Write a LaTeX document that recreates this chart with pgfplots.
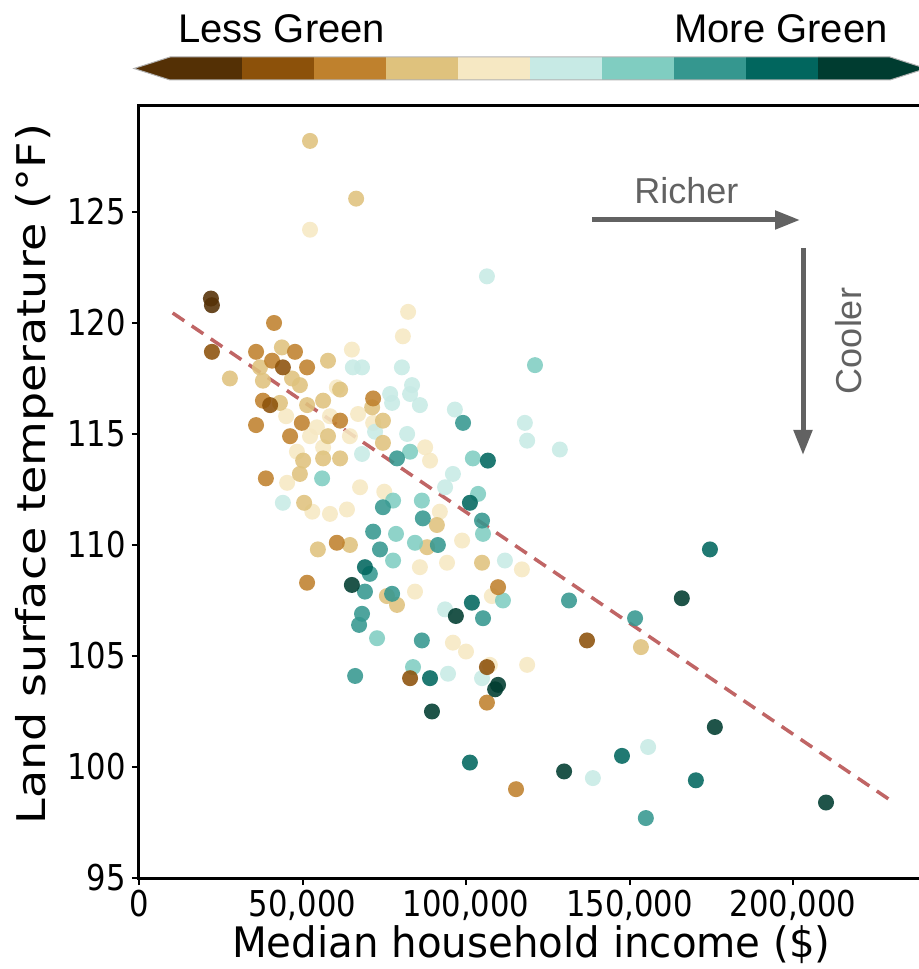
\documentclass[border=0pt]{standalone}
\usepackage{pgfplots}
\pgfplotsset{compat=1.18}
\usetikzlibrary{arrows.meta}
\usepackage{fontspec}
\setmainfont{DejaVu Sans}
\newfontfamily\arialf{Liberation Sans}
\definecolor{c1}{HTML}{543005}
\definecolor{c2}{HTML}{8C510A}
\definecolor{c3}{HTML}{BF812D}
\definecolor{c4}{HTML}{DFC27D}
\definecolor{c5}{HTML}{F6E8C3}
\definecolor{c6}{HTML}{C7EAE5}
\definecolor{c7}{HTML}{80CDC1}
\definecolor{c8}{HTML}{35978F}
\definecolor{c9}{HTML}{01665E}
\definecolor{c10}{HTML}{003C30}
\definecolor{trend}{HTML}{C06565}
\definecolor{annot}{HTML}{626262}
\pgfplotsset{dots/.style={only marks, mark=*, mark size=4pt, mark options={draw opacity=0, fill opacity=0.88}}}
\begin{document}
\begin{tikzpicture}
\path[use as bounding box] (-69.5pt,-45.5pt) rectangle (389.5pt,439pt);
\begin{axis}[
  at={(0,0)}, anchor=south west,
  scale only axis, width=392.4pt, height=386.3pt,
  xmin=0, xmax=240000, ymin=95, ymax=129.8,
  axis line style={line width=1.5pt},
  tick align=outside, xtick pos=bottom, ytick pos=left,
  major tick length=3.5pt, tick style={line width=1pt, black},
  xtick={0,50000,100000,150000,200000},
  xticklabels={0,{50,000},{100,000},{150,000},{200,000}},
  scaled x ticks=false,
  ytick={95,100,105,110,115,120,125},
  /pgf/number format/assume math mode=true,
  tick label style={font=\fontsize{17.8}{20}\selectfont, xscale=0.86},
  xticklabel style={yshift=1pt},
  xlabel={Median household income (\$)},
  ylabel={Land surface temperature (°F)},
  xlabel style={at={(axis description cs:0.5,-0.1035)}, anchor=base, font=\fontsize{21}{24}\selectfont, xscale=0.96},
  ylabel style={at={(axis description cs:-0.1325,0.523)}, anchor=center, font=\fontsize{23}{26}\selectfont, yscale=0.86},
]
\addplot[dots, c5] coordinates {(52300,124.2) (82300,120.5) (80700,119.4) (65100,118.8) (60500,117.1) (67000,115.9) (71600,115.5) (58400,115.8) (52300,114.9) (54400,115.3) (48300,114.2) (56300,114.4) (64500,114.9) (87500,114.4) (89000,113.8) (45300,112.8) (67600,112.6) (58400,111.4) (63600,111.6) (85900,109.0) (94200,109.2) (117100,108.9) (84400,107.9) (107900,107.7) (96000,105.6) (100000,105.2) (118700,104.6) (107300,104.6) (98800,110.2) (53000,111.5) (75000,112.4) (92000,111.5) (45000,115.8)};
\addplot[dots, c6] coordinates {(106400,122.1) (65400,118.0) (68200,118.0) (80400,118.0) (83500,117.2) (82900,116.8) (76800,116.8) (77400,116.4) (85900,116.3) (72200,115.1) (82000,115.0) (96600,116.1) (118000,115.5) (118700,114.7) (128700,114.3) (96000,113.2) (68200,114.1) (44000,111.9) (93600,107.1) (94500,104.2) (104900,104.0) (155700,100.9) (138800,99.5) (93600,112.6) (111900,109.3)};
\addplot[dots, c4] coordinates {(52300,128.2) (66400,125.6) (27800,117.5) (43700,118.9) (57800,118.3) (37000,118.0) (37900,117.4) (46800,117.5) (49200,117.2) (43100,116.4) (51400,116.3) (56300,116.5) (61500,117.0) (71300,116.2) (74600,115.6) (74600,114.6) (57800,114.9) (49200,113.2) (50200,113.8) (56300,113.9) (61500,113.9) (50500,111.9) (64500,110.0) (54700,109.8) (91100,110.9) (88100,109.9) (104900,109.2) (75800,107.7) (78900,107.3) (153500,105.4)};
\addplot[dots, c7] coordinates {(121100,118.1) (82900,114.2) (102100,113.9) (56000,113.0) (77700,112.0) (86500,112.0) (103700,112.3) (105200,110.5) (78600,110.5) (84400,110.1) (77700,109.3) (111300,107.5) (72800,105.8) (83800,104.5)};
\addplot[dots, c3] coordinates {(41300,120.0) (35800,118.7) (47700,118.7) (40700,118.3) (51400,118.0) (37900,116.5) (71600,116.6) (61500,115.6) (35800,115.4) (49800,115.5) (46200,114.9) (38800,113.0) (60500,110.1) (51400,108.3) (109800,108.1) (106400,102.9) (115300,99.0)};
\addplot[dots, c8] coordinates {(99100,115.5) (78900,113.9) (74600,111.7) (86800,111.2) (71600,110.6) (73700,109.8) (91400,110.0) (104900,111.1) (70600,108.7) (69100,107.9) (68200,106.9) (67300,106.4) (77400,107.8) (86500,105.7) (66100,104.1) (105200,106.7) (131500,107.5) (151700,106.7) (155000,97.7)};
\addplot[dots, c2] coordinates {(22300,118.7) (44000,118.0) (40100,116.3) (82900,104.0) (106400,104.5) (137000,105.7)};
\addplot[dots, c9] coordinates {(106700,113.8) (101200,111.9) (69100,109.0) (101800,107.4) (89000,104.0) (101200,100.2) (147700,100.5) (170300,99.4) (174600,109.8)};
\addplot[dots, c1] coordinates {(22000,121.1) (22300,120.8)};
\addplot[dots, c10] coordinates {(65100,108.2) (96900,106.8) (109800,103.7) (108900,103.5) (89600,102.5) (166000,107.6) (176100,101.8) (130000,99.8) (210100,98.4)};
\addplot[trend, line width=1.75pt, dash pattern=on 7pt off 4.5pt] coordinates {(10300,120.45) (230300,98.45)};
\end{axis}
% colour bar
\fill[c1] (-2.5pt,404.75pt) -- (15.5pt,410.5pt) -- (51.5pt,410.5pt) -- (51.5pt,399pt) -- (15.5pt,399pt) -- cycle;
\foreach \c [count=\i from 0] in {c2,c3,c4,c5,c6,c7,c8,c9}
  \fill[\c] ({51.5pt+\i*36pt},399pt) rectangle ({87.5pt+\i*36pt},410.5pt);
\fill[c10] (339.5pt,399pt) -- (375.5pt,399pt) -- (393.5pt,404.75pt) -- (375.5pt,410.5pt) -- (339.5pt,410.5pt) -- cycle;
\draw[gray!60, line width=0.5pt] (-2.5pt,404.75pt) -- (15.5pt,410.5pt) -- (375.5pt,410.5pt) -- (393.5pt,404.75pt) -- (375.5pt,399pt) -- (15.5pt,399pt) -- cycle;
\node[anchor=base west, inner sep=0pt, font=\arialf\fontsize{20}{24}\selectfont] at (19.5pt,417.5pt) {Less Green};
\node[anchor=base east, inner sep=0pt, font=\arialf\fontsize{20}{24}\selectfont] at (374.5pt,417.5pt) {More Green};
% annotations
\node[anchor=base west, inner sep=0pt, text=annot, font=\arialf\fontsize{18}{22}\selectfont] at (247.5pt,337pt) {Richer};
\draw[annot, line width=2.5pt, -{Triangle[length=12.5pt,width=9pt]}] (226.5pt,329pt) -- (330.5pt,329pt);
\draw[annot, line width=2.5pt, -{Triangle[length=12.5pt,width=9pt]}] (332pt,315pt) -- (332pt,211.5pt);
\node[rotate=90, anchor=center, inner sep=0pt, text=annot, font=\arialf\fontsize{18}{22}\selectfont] at (355pt,268.5pt) {Cooler};
\end{tikzpicture}
\end{document}
